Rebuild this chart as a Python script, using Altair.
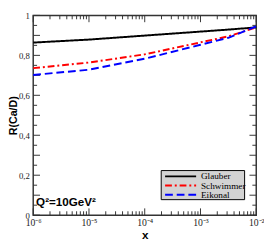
import altair as alt
import pandas as pd

# data
x_vals = [1e-6, 1e-5, 1e-4, 1e-3, 3.16e-3, 1e-2]
glauber = [0.864, 0.879, 0.899, 0.919, 0.929, 0.940]
schwimmer = [0.736, 0.764, 0.805, 0.865, 0.895, 0.940]
eikonal = [0.702, 0.728, 0.783, 0.853, 0.888, 0.945]
series_names = ["Glauber", "Schwimmer", "Eikonal"]
series_colors = ["#000000", "#ff0000", "#0000ff"]
series_dash = [[1, 0], [7, 3, 2, 3], [8, 4]]

y_major = [round(i * 0.1, 2) for i in range(11)]
y_minor = [round(0.05 + i * 0.1, 2) for i in range(10)]
x_major = [1e-6, 1e-5, 1e-4, 1e-3, 1e-2]
x_minor = [m * d for d in [1e-6, 1e-5, 1e-4, 1e-3] for m in range(2, 10)]

PL, PT = 26, 4
W, H = 230, 206
OX, OY = 8 + PL, 8 + PT  # absolute page position of the plot origin

rows = []
for name, vals in zip(series_names, [glauber, schwimmer, eikonal]):
    for xv, yv in zip(x_vals, vals):
        rows.append({"x": xv, "R": yv, "series": name})
df = pd.DataFrame(rows)

xscale = alt.Scale(type="log", domain=[1e-6, 1e-2], nice=False)
yscale = alt.Scale(domain=[0, 1], nice=False)

xlab = ("datum.value < 5e-6 ? '10⁻⁶' : datum.value < 5e-5 ? '10⁻⁵' : "
        "datum.value < 5e-4 ? '10⁻⁴' : datum.value < 5e-3 ? '10⁻³' : '10⁻²'")
ylab = ("datum.value == 0 ? '0' : datum.value == 1 ? '1' : "
        "replace(format(datum.value, '.1f'), '.', ',')")

lines = alt.Chart(df).mark_line(strokeWidth=2).encode(
    x=alt.X("x:Q", scale=xscale,
            axis=alt.Axis(values=x_major, labelExpr=xlab, ticks=False, grid=False,
                          domain=False, labelFont="Liberation Serif", labelFontSize=10,
                          labelColor="#222", labelPadding=3, labelFlush=False,
                          title="x", titleFont="Liberation Sans", titleFontSize=12,
                          titleFontWeight="bold", titlePadding=2)),
    y=alt.Y("R:Q", scale=yscale,
            axis=alt.Axis(values=y_major, labelExpr=ylab, ticks=False, grid=False,
                          domain=False, labelFont="Liberation Serif", labelFontSize=9,
                          labelColor="#222", labelPadding=4, labelFlush=False,
                          title="R(Ca/D)", titleFont="Liberation Sans", titleFontSize=11,
                          titleFontWeight="bold", titleX=-20, titleBaseline="middle")),
    color=alt.Color("series:N", sort=series_names,
                    scale=alt.Scale(domain=series_names, range=series_colors),
                    legend=None),
    strokeDash=alt.StrokeDash("series:N", sort=series_names,
                              scale=alt.Scale(domain=series_names, range=series_dash),
                              legend=None),
)

tick_color = "#333"
ymaj = pd.DataFrame({"v": y_major})
ymin = pd.DataFrame({"v": y_minor})
xmaj = pd.DataFrame({"v": x_major})
xmin = pd.DataFrame({"v": x_minor})

def yticks(d, length):
    left = alt.Chart(d).mark_rule(color=tick_color, strokeWidth=1).encode(
        y=alt.Y("v:Q", scale=yscale), x=alt.value(0), x2=alt.value(length))
    right = alt.Chart(d).mark_rule(color=tick_color, strokeWidth=1).encode(
        y=alt.Y("v:Q", scale=yscale), x=alt.value(W - length), x2=alt.value(W))
    return [left, right]

def xticks(d, length):
    bot = alt.Chart(d).mark_rule(color=tick_color, strokeWidth=1).encode(
        x=alt.X("v:Q", scale=xscale), y=alt.value(H - length), y2=alt.value(H))
    top = alt.Chart(d).mark_rule(color=tick_color, strokeWidth=1).encode(
        x=alt.X("v:Q", scale=xscale), y=alt.value(0), y2=alt.value(length))
    return [bot, top]

ticks = yticks(ymaj, 7) + yticks(ymin, 4) + xticks(xmaj, 7) + xticks(xmin, 4)

label = alt.Chart(pd.DataFrame({"t": ["Q²=10GeV²"]})).mark_text(
    align="left", baseline="alphabetic", font="Liberation Sans", fontSize=12,
    fontWeight="bold", color="#000").encode(
    text="t:N", x=alt.value(3), y=alt.value(197))

# manual legend (box, sample lines, labels)
leg_box = alt.Chart(pd.DataFrame({"a": [0]})).mark_rect(
    fill="#d3d3d3", stroke="#000", strokeWidth=1).encode(
    x=alt.value(166 - OX), x2=alt.value(252 - OX),
    y=alt.value(172 - OY), y2=alt.value(202 - OY))
leg_layers = [leg_box]
row_y = [178, 187.5, 197]
for name, col, dash, ry in zip(series_names, series_colors, series_dash, row_y):
    leg_layers.append(alt.Chart(pd.DataFrame({"s": [name]})).mark_rule(
        color=col, strokeWidth=2, strokeDash=dash).encode(
        x=alt.value(170 - OX), x2=alt.value(202 - OX), y=alt.value(ry - OY)))
    leg_layers.append(alt.Chart(pd.DataFrame({"s": [name]})).mark_text(
        align="left", baseline="middle", font="Liberation Serif", fontSize=9.5,
        color="#000").encode(text="s:N", x=alt.value(207 - OX), y=alt.value(ry - OY)))

chart = alt.layer(*ticks, lines, label, *leg_layers).properties(
    width=W, height=H, autosize=alt.AutoSizeParams(type="none"),
    padding={"left": PL, "top": PT, "right": 272 - 8 - PL - W,
             "bottom": 241 - 8 - PT - H}
).configure_view(stroke="#333", strokeWidth=1.5)

chart.save("out.html", embed_options={"renderer": "svg", "actions": False})
